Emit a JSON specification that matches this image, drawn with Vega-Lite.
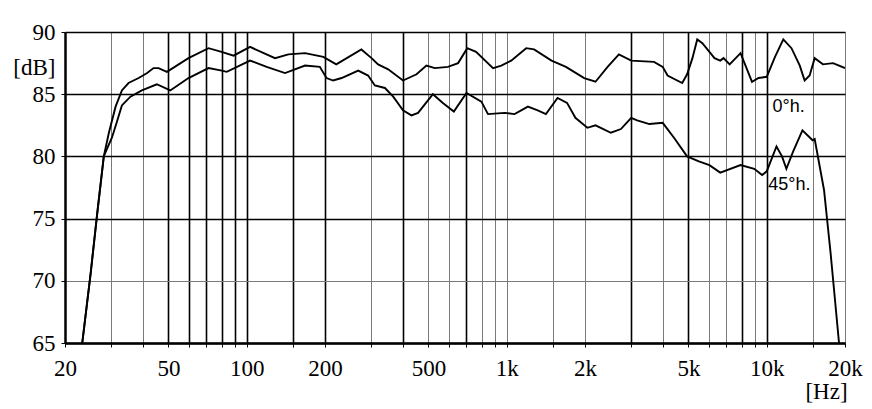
{
"$schema": "https://vega.github.io/schema/vega-lite/v6.json",
"width": 780, "height": 311,
"autosize": {"type": "none"},
"padding": {"left": 65, "top": 32, "right": 27, "bottom": 66},
"background": "white",
"config": {"view": {"stroke": null}, "font": "Liberation Serif"},
"datasets": {
"curves": [
{"angle":"0","hz":23.3,"db":65.0},{"angle":"0","hz":25.1,"db":70.6},{"angle":"0","hz":26.6,"db":75.4},{"angle":"0","hz":28.2,"db":80.0},
{"angle":"0","hz":29.5,"db":81.9},{"angle":"0","hz":31.3,"db":84.0},{"angle":"0","hz":33.1,"db":85.3},{"angle":"0","hz":35.1,"db":85.9},
{"angle":"0","hz":38.4,"db":86.3},{"angle":"0","hz":41.4,"db":86.7},{"angle":"0","hz":43.8,"db":87.1},{"angle":"0","hz":45.8,"db":87.1},
{"angle":"0","hz":49.3,"db":86.8},{"angle":"0","hz":59.7,"db":87.9},{"angle":"0","hz":71.3,"db":88.7},{"angle":"0","hz":80,"db":88.4},
{"angle":"0","hz":89,"db":88.1},{"angle":"0","hz":103,"db":88.8},{"angle":"0","hz":128.5,"db":87.9},{"angle":"0","hz":144.6,"db":88.2},
{"angle":"0","hz":167.6,"db":88.3},{"angle":"0","hz":197,"db":88.0},{"angle":"0","hz":221,"db":87.4},{"angle":"0","hz":276,"db":88.6},
{"angle":"0","hz":302,"db":87.9},{"angle":"0","hz":320,"db":87.4},{"angle":"0","hz":350,"db":87.0},{"angle":"0","hz":399,"db":86.1},
{"angle":"0","hz":450,"db":86.6},{"angle":"0","hz":491,"db":87.3},{"angle":"0","hz":529,"db":87.1},{"angle":"0","hz":594,"db":87.2},
{"angle":"0","hz":650,"db":87.5},{"angle":"0","hz":705,"db":88.7},{"angle":"0","hz":762,"db":88.4},{"angle":"0","hz":886,"db":87.1},
{"angle":"0","hz":953,"db":87.3},{"angle":"0","hz":1040,"db":87.7},{"angle":"0","hz":1188,"db":88.7},{"angle":"0","hz":1274,"db":88.6},
{"angle":"0","hz":1487,"db":87.7},{"angle":"0","hz":1689,"db":87.2},{"angle":"0","hz":1986,"db":86.3},{"angle":"0","hz":2195,"db":86.0},
{"angle":"0","hz":2443,"db":87.2},{"angle":"0","hz":2700,"db":88.2},{"angle":"0","hz":3011,"db":87.7},{"angle":"0","hz":3686,"db":87.6},
{"angle":"0","hz":3980,"db":87.2},{"angle":"0","hz":4155,"db":86.5},{"angle":"0","hz":4731,"db":85.9},{"angle":"0","hz":4940,"db":86.6},
{"angle":"0","hz":5179,"db":87.9},{"angle":"0","hz":5404,"db":89.4},{"angle":"0","hz":5655,"db":89.1},{"angle":"0","hz":6020,"db":88.4},
{"angle":"0","hz":6298,"db":87.9},{"angle":"0","hz":6625,"db":87.7},{"angle":"0","hz":6821,"db":87.9},{"angle":"0","hz":7200,"db":87.4},
{"angle":"0","hz":7930,"db":88.3},{"angle":"0","hz":8777,"db":86.0},{"angle":"0","hz":9300,"db":86.3},{"angle":"0","hz":10000,"db":86.4},
{"angle":"0","hz":10760,"db":88.0},{"angle":"0","hz":11580,"db":89.4},{"angle":"0","hz":12450,"db":88.7},{"angle":"0","hz":13400,"db":87.3},
{"angle":"0","hz":13990,"db":86.1},{"angle":"0","hz":14620,"db":86.5},{"angle":"0","hz":15290,"db":87.9},{"angle":"0","hz":16450,"db":87.4},
{"angle":"0","hz":17990,"db":87.5},{"angle":"0","hz":20000,"db":87.1},
{"angle":"45","hz":23.3,"db":65.0},{"angle":"45","hz":25.1,"db":70.6},{"angle":"45","hz":26.6,"db":75.4},{"angle":"45","hz":28.2,"db":80.0},
{"angle":"45","hz":29.0,"db":80.6},{"angle":"45","hz":30.3,"db":81.5},{"angle":"45","hz":31.7,"db":82.8},{"angle":"45","hz":33.1,"db":84.1},
{"angle":"45","hz":35.7,"db":84.8},{"angle":"45","hz":39.5,"db":85.3},{"angle":"45","hz":45.1,"db":85.8},{"angle":"45","hz":50.8,"db":85.3},
{"angle":"45","hz":59.7,"db":86.3},{"angle":"45","hz":71.3,"db":87.1},{"angle":"45","hz":80.2,"db":86.9},{"angle":"45","hz":83.8,"db":86.8},
{"angle":"45","hz":103,"db":87.7},{"angle":"45","hz":119.3,"db":87.2},{"angle":"45","hz":140.4,"db":86.7},{"angle":"45","hz":167.6,"db":87.3},
{"angle":"45","hz":191,"db":87.2},{"angle":"45","hz":202.7,"db":86.3},{"angle":"45","hz":215,"db":86.1},{"angle":"45","hz":231.7,"db":86.3},
{"angle":"45","hz":268.4,"db":86.9},{"angle":"45","hz":293,"db":86.5},{"angle":"45","hz":311,"db":85.7},{"angle":"45","hz":340,"db":85.5},
{"angle":"45","hz":366,"db":84.8},{"angle":"45","hz":399,"db":83.7},{"angle":"45","hz":430,"db":83.3},{"angle":"45","hz":456,"db":83.5},
{"angle":"45","hz":520,"db":85.0},{"angle":"45","hz":568,"db":84.3},{"angle":"45","hz":626,"db":83.6},{"angle":"45","hz":700,"db":85.1},
{"angle":"45","hz":799,"db":84.4},{"angle":"45","hz":847,"db":83.4},{"angle":"45","hz":981,"db":83.5},{"angle":"45","hz":1072,"db":83.4},
{"angle":"45","hz":1206,"db":84.0},{"angle":"45","hz":1316,"db":83.7},{"angle":"45","hz":1415,"db":83.4},{"angle":"45","hz":1568,"db":84.7},
{"angle":"45","hz":1706,"db":84.3},{"angle":"45","hz":1837,"db":83.1},{"angle":"45","hz":2042,"db":82.3},{"angle":"45","hz":2195,"db":82.5},
{"angle":"45","hz":2515,"db":81.9},{"angle":"45","hz":2749,"db":82.2},{"angle":"45","hz":3011,"db":83.1},{"angle":"45","hz":3174,"db":82.9},
{"angle":"45","hz":3538,"db":82.6},{"angle":"45","hz":3980,"db":82.7},{"angle":"45","hz":4399,"db":81.5},{"angle":"45","hz":4940,"db":80.0},
{"angle":"45","hz":5484,"db":79.6},{"angle":"45","hz":6020,"db":79.3},{"angle":"45","hz":6625,"db":78.7},{"angle":"45","hz":7930,"db":79.3},
{"angle":"45","hz":8950,"db":79.0},{"angle":"45","hz":9600,"db":78.5},{"angle":"45","hz":10000,"db":78.8},{"angle":"45","hz":10900,"db":80.8},
{"angle":"45","hz":11450,"db":80.0},{"angle":"45","hz":11900,"db":79.0},{"angle":"45","hz":12640,"db":80.4},{"angle":"45","hz":13720,"db":82.1},
{"angle":"45","hz":15010,"db":81.3},{"angle":"45","hz":15290,"db":81.4},{"angle":"45","hz":16610,"db":77.3},{"angle":"45","hz":17610,"db":72.2},
{"angle":"45","hz":18970,"db":65.0}
],
"labels": [
{"label":"0°h.","hz":10520,"db":84.0},
{"label":"45°h.","hz":10140,"db":77.7}
]
},
"layer": [
{
"data": {"name": "curves"},
"mark": {"type": "line", "color": "black", "strokeWidth": 1.9, "clip": true},
"encoding": {
"x": {"field": "hz", "type": "quantitative",
"scale": {"type": "log", "domain": [20, 20000], "nice": false},
"axis": {
"values": [20,30,40,50,60,70,80,90,100,150,200,300,400,500,600,700,800,900,1000,1500,2000,3000,4000,5000,6000,7000,8000,9000,10000,15000,20000],
"labelExpr": "indexof([20,50,100,200,500,1000,2000,5000,10000,20000], datum.value) >= 0 ? (datum.value >= 1000 ? (datum.value/1000) + 'k' : '' + datum.value) : ''",
"grid": true,
"gridColor": {"condition": {"test": "indexof([50,60,70,80,90,100,150,200,400,700,3000,5000,8000,10000], datum.value) >= 0", "value": "#000000"}, "value": "#7a7a7a"},
"gridWidth": {"condition": {"test": "indexof([50,60,70,80,90,100,150,200,400,700,3000,5000,8000,10000], datum.value) >= 0", "value": 1.6}, "value": 1},
"domainColor": "#000000", "domainWidth": 2.5,
"tickColor": "#000000", "tickSize": 4, "tickWidth": 1,
"labelFont": "Liberation Serif", "labelFontSize": 23, "labelColor": "#000000", "labelPadding": 10,
"labelFlush": false, "labelOverlap": false,
"title": "[Hz]", "titleFont": "Liberation Serif", "titleFontSize": 23, "titleFontWeight": "normal",
"titleColor": "#000000", "titleX": 761, "titleY": 48, "titleAlign": "center", "titleBaseline": "middle"
}
},
"y": {"field": "db", "type": "quantitative",
"scale": {"domain": [65, 90], "nice": false, "zero": false},
"axis": {
"values": [65,70,75,80,85,90],
"grid": true,
"gridColor": {"condition": {"test": "datum.value == 70", "value": "#7a7a7a"}, "value": "#000000"},
"gridWidth": {"condition": {"test": "datum.value == 70", "value": 1}, "value": 1.6},
"domainColor": "#000000", "domainWidth": 2.5,
"tickColor": "#000000", "tickSize": 4,
"labelFont": "Liberation Serif", "labelFontSize": 23, "labelColor": "#000000", "labelPadding": 6,
"labelFlush": false, "labelOverlap": false,
"title": "[dB]", "titleFont": "Liberation Serif", "titleFontSize": 23, "titleFontWeight": "normal",
"titleColor": "#000000", "titleAngle": 0, "titleX": -10, "titleY": 35, "titleAlign": "right", "titleBaseline": "middle"
}
},
"detail": {"field": "angle"}
}
},
{
"data": {"name": "labels"},
"mark": {"type": "text", "font": "Liberation Sans", "fontSize": 18, "align": "left", "baseline": "middle", "color": "black"},
"encoding": {
"x": {"field": "hz", "type": "quantitative"},
"y": {"field": "db", "type": "quantitative"},
"text": {"field": "label"}
}
}
]
}
